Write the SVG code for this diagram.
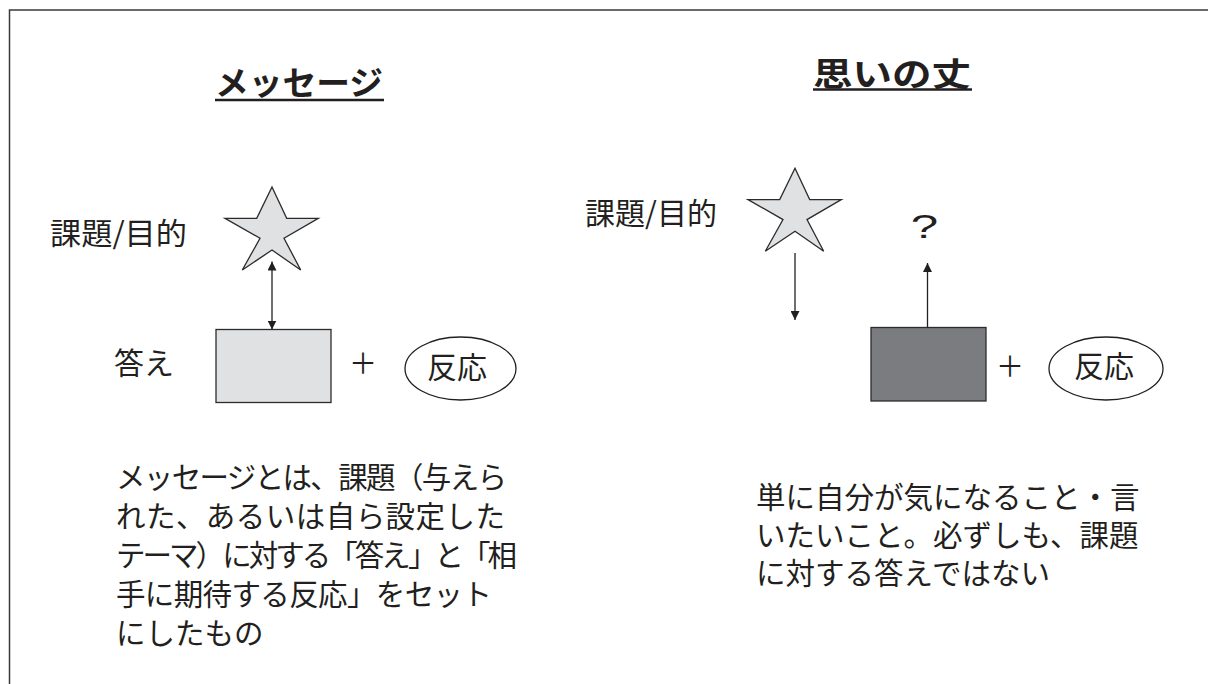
<svg xmlns="http://www.w3.org/2000/svg" width="1208" height="684" viewBox="0 0 1208 684">
<style>
  .jp { font-family: "Noto Sans CJK JP", "Noto Sans", sans-serif; fill: #231f20; }
  .title { font-weight: bold; font-size: 33px; }
  .label { font-size: 30px; }
  .para { font-size: 29.5px; }
  .plus { font-size: 28px; text-anchor: middle; }
  .light { fill: #e0e1e3; stroke: #2b2b2b; stroke-width: 1.3; }
  .dark { fill: #7b7c80; stroke: #2b2b2b; stroke-width: 1.3; }
  .oval { fill: #ffffff; stroke: #231f20; stroke-width: 1.3; }
  .conn { stroke: #231f20; stroke-width: 1.3; fill: none; }
  .uline { stroke: #231f20; stroke-width: 2.5; }
</style>
<defs>
  <path id="starShape" d="M272,187 L286.7,218.3 L318.3,218.3 L284,238.3 L300.7,270 L272,250 L242.3,270 L260,238.3 L225,218.3 L256.7,218.3 Z"/>
  <marker id="arrowEnd" viewBox="0 0 10 10" refX="10" refY="5" markerWidth="9" markerHeight="9" markerUnits="userSpaceOnUse" orient="auto">
    <path d="M0,0 L10,5 L0,10 Z" fill="#231f20"/>
  </marker>
  <marker id="arrowStart" viewBox="0 0 10 10" refX="0" refY="5" markerWidth="9" markerHeight="9" markerUnits="userSpaceOnUse" orient="auto">
    <path d="M10,0 L0,5 L10,10 Z" fill="#231f20"/>
  </marker>
</defs>
<rect width="1208" height="684" fill="#ffffff"/>
<g id="frame">
  <path d="M9.5,684 L9.5,10 L1208,10" fill="none" stroke="#3a3a3a" stroke-width="1.5"/>
</g>

<g id="title-left">
  <text class="jp title" x="215" y="95" textLength="168" lengthAdjust="spacingAndGlyphs">メッセージ</text>
  <line class="uline" x1="215" y1="100" x2="384" y2="100"/>
</g>
<g id="title-right">
  <text class="jp title" x="813" y="86" textLength="158" lengthAdjust="spacingAndGlyphs">思いの丈</text>
  <line class="uline" x1="813" y1="89.5" x2="972" y2="89.5"/>
</g>

<g id="label-left-kadai">
  <text class="jp label" x="50" y="244" font-size="31" textLength="137" lengthAdjust="spacingAndGlyphs">課題/目的</text>
</g>
<g id="star-left">
  <use href="#starShape" class="light"/>
</g>
<g id="box-left">
  <rect class="light" x="216" y="329.5" width="115" height="73"/>
</g>
<g id="label-left-kotae">
  <text class="jp label" x="114" y="373.5">答え</text>
</g>
<g id="plus-left">
  <text class="jp plus" x="363" y="373.5">＋</text>
</g>
<g id="oval-left">
  <ellipse class="oval" cx="460.5" cy="368.5" rx="55.5" ry="31.5"/>
  <text class="jp label" x="457" y="378" text-anchor="middle">反応</text>
</g>

<g id="label-right-kadai">
  <text class="jp label" x="585" y="223.5" textLength="132" lengthAdjust="spacingAndGlyphs">課題/目的</text>
</g>
<g id="star-right">
  <use href="#starShape" class="light" transform="translate(523,-18.7)"/>
</g>
<g id="question">
  <text x="0" y="0" transform="translate(924.5,238) scale(1.45,1)" font-family="Liberation Sans, Arial, sans-serif" font-size="34" fill="#231f20" text-anchor="middle">?</text>
</g>
<g id="box-right">
  <rect class="dark" x="871" y="327.5" width="115" height="73.5"/>
</g>
<g id="plus-right">
  <text class="jp plus" x="1010" y="376.5">＋</text>
</g>
<g id="oval-right">
  <ellipse class="oval" cx="1106" cy="368.5" rx="57" ry="31.5"/>
  <text class="jp label" x="1104" y="377" text-anchor="middle">反応</text>
</g>

<g id="connectors">
  <line class="conn" x1="272" y1="261.5" x2="272" y2="329.5" marker-start="url(#arrowStart)" marker-end="url(#arrowEnd)"/>
  <line class="conn" x1="795" y1="253" x2="795" y2="320" marker-end="url(#arrowEnd)"/>
  <line class="conn" x1="927.5" y1="327.5" x2="927.5" y2="263" marker-end="url(#arrowEnd)"/>
</g>

<g id="text-left">
  <text class="jp para" x="116" y="488" textLength="391" lengthAdjust="spacing">メッセージとは、課題（与えら</text>
  <text class="jp para" x="116" y="527" textLength="389" lengthAdjust="spacing">れた、あるいは自ら設定した</text>
  <text class="jp para" x="116" y="566" textLength="401" lengthAdjust="spacing">テーマ）に対する「答え」と「相</text>
  <text class="jp para" x="116" y="605" textLength="376" lengthAdjust="spacing">手に期待する反応」をセット</text>
  <text class="jp para" x="116" y="644">にしたもの</text>
</g>
<g id="text-right">
  <text class="jp para" x="756" y="508">単に自分が気になること・言</text>
  <text class="jp para" x="756" y="546">いたいこと。必ずしも、課題</text>
  <text class="jp para" x="756" y="584">に対する答えではない</text>
</g>
</svg>
